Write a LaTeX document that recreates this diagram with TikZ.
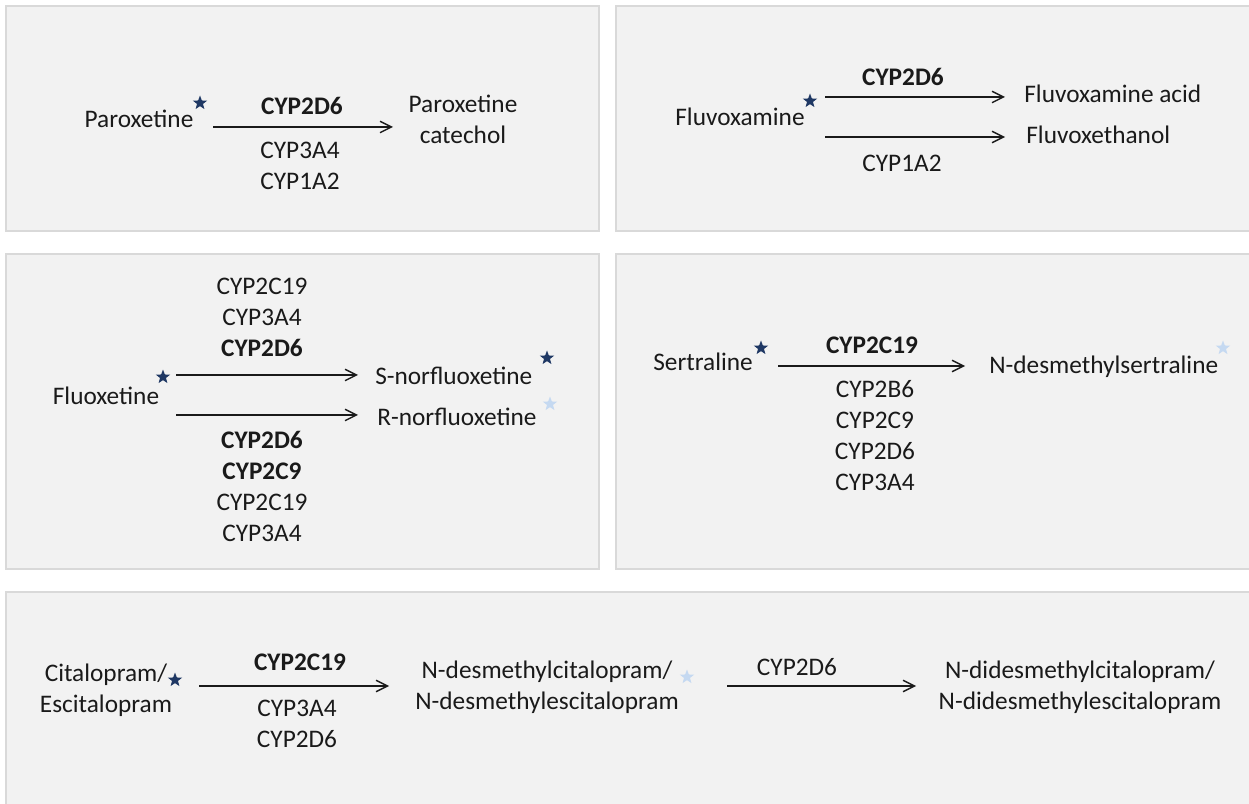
\documentclass[tikz,border=0pt]{standalone}
\usepackage{fontspec}
\setmainfont{Carlito}
\usetikzlibrary{arrows.meta, shapes.geometric}
\definecolor{panelfill}{HTML}{F2F2F2}
\definecolor{panelline}{HTML}{D9D9D9}
\definecolor{stardark}{HTML}{1F3864}
\definecolor{starlight}{HTML}{C5D9F1}
\definecolor{ink}{HTML}{1A1A1A}

\begin{document}
\begin{tikzpicture}[x = 0.02cm, y = -0.02cm,
		panel/.style = {fill = panelfill, draw = panelline, line width = 1.7pt},
		lbl/.style = {inner sep = 0pt, align = center, text = ink,
			font = \fontsize{14.4}{17.6}\selectfont,
			execute at begin node = \strut, execute at end node = \strut},
		rxn/.style = {draw = ink, line width = 0.8pt,
			-{Straight Barb[length = 6.5pt, width = 6.5pt]}},
		darkstar/.style = {star, star points = 5, star point ratio = 2.4,
			inner sep = 0pt, minimum size = 0.3cm, fill = stardark},
		lightstar/.style = {darkstar, fill = starlight}]

	\useasboundingbox (0, 0) rectangle (1249, 804);
	\clip (0, 0) rectangle (1249, 804);

	% panels
	\draw [panel] (6, 6) rectangle (599, 231);
	\draw [panel] (616, 6) rectangle (1262, 231);
	\draw [panel] (6, 254) rectangle (599, 569);
	\draw [panel] (616, 254) rectangle (1262, 569);
	\draw [panel] (6, 592) rectangle (1262, 820);

	% arrow ends
	\coordinate (a1) at (213, 127);
	\coordinate (a2) at (393, 127);

	\coordinate (b1) at (825, 97);
	\coordinate (b2) at (1005, 97);
	\coordinate (b3) at (825, 137);
	\coordinate (b4) at (1005, 137);

	\coordinate (c1) at (176, 375);
	\coordinate (c2) at (358, 375);
	\coordinate (c3) at (176, 415);
	\coordinate (c4) at (358, 415);

	\coordinate (d1) at (778, 366);
	\coordinate (d2) at (965, 366);

	\coordinate (e1) at (199, 686);
	\coordinate (e2) at (389, 686);
	\coordinate (e3) at (727, 686);
	\coordinate (e4) at (916, 686);

	\draw [rxn] (a1) -- (a2);
	\draw [rxn] (b1) -- (b2);
	\draw [rxn] (b3) -- (b4);
	\draw [rxn] (c1) -- (c2);
	\draw [rxn] (c3) -- (c4);
	\draw [rxn] (d1) -- (d2);
	\draw [rxn] (e1) -- (e2);
	\draw [rxn] (e3) -- (e4);

	% paroxetine
	\node [lbl] (parox) at (139, 121) {Paroxetine};
	\node [darkstar] (paroxstar) at (200, 103) {};
	\node [lbl] (paroxtop) at (302, 108) {\textbf{CYP2D6}};
	\node [lbl] (paroxbot) at (300, 170) {CYP3A4\\CYP1A2};
	\node [lbl] (catechol) at (463, 124) {Paroxetine\\catechol};

	% fluvoxamine
	\node [lbl] (fluvox) at (740, 119) {Fluvoxamine};
	\node [darkstar] (fluvoxstar) at (810, 101) {};
	\node [lbl] (fluvoxtop) at (903, 79) {\textbf{CYP2D6}};
	\node [lbl] (fluvoxbot) at (902, 165) {CYP1A2};
	\node [lbl, anchor = west] (fluvacid) at (1024, 96) {Fluvoxamine acid};
	\node [lbl, anchor = west] (fluveth) at (1026, 137) {Fluvoxethanol};

	% fluoxetine
	\node [lbl] (fluox) at (106, 398) {Fluoxetine};
	\node [darkstar] (fluoxstar) at (163, 377) {};
	\node [lbl] (fluoxtop) at (262, 322) {CYP2C19\\CYP3A4\\\textbf{CYP2D6}};
	\node [lbl] (fluoxbot) at (262, 491) {\textbf{CYP2D6}\\\textbf{CYP2C9}\\CYP2C19\\CYP3A4};
	\node [lbl, anchor = west] (snor) at (375, 378) {S-norfluoxetine};
	\node [darkstar] (snorstar) at (547, 358) {};
	\node [lbl, anchor = west] (rnor) at (377, 419) {R-norfluoxetine};
	\node [lightstar] (rnorstar) at (550, 404) {};

	% sertraline
	\node [lbl] (sert) at (703, 364) {Sertraline};
	\node [darkstar] (sertstar) at (761, 348) {};
	\node [lbl] (serttop) at (872, 347) {\textbf{CYP2C19}};
	\node [lbl] (sertbot) at (875, 440) {CYP2B6\\CYP2C9\\CYP2D6\\CYP3A4};
	\node [lbl, anchor = west] (desert) at (989, 367) {N-desmethylsertraline};
	\node [lightstar] (desertstar) at (1223, 348) {};

	% citalopram
	\node [lbl] (cital) at (106, 693) {Citalopram/\\Escitalopram};
	\node [darkstar] (citalstar) at (175, 680) {};
	\node [lbl] (citaltop) at (300, 664) {\textbf{CYP2C19}};
	\node [lbl] (citalbot) at (297, 728) {CYP3A4\\CYP2D6};
	\node [lbl] (decital) at (547, 690) {N-desmethylcitalopram/\\N-desmethylescitalopram};
	\node [lightstar] (decitalstar) at (687, 677) {};
	\node [lbl] (decitaltop) at (797, 669) {CYP2D6};
	\node [lbl] (didecital) at (1080, 690) {N-didesmethylcitalopram/\\N-didesmethylescitalopram};
\end{tikzpicture}
\end{document}
